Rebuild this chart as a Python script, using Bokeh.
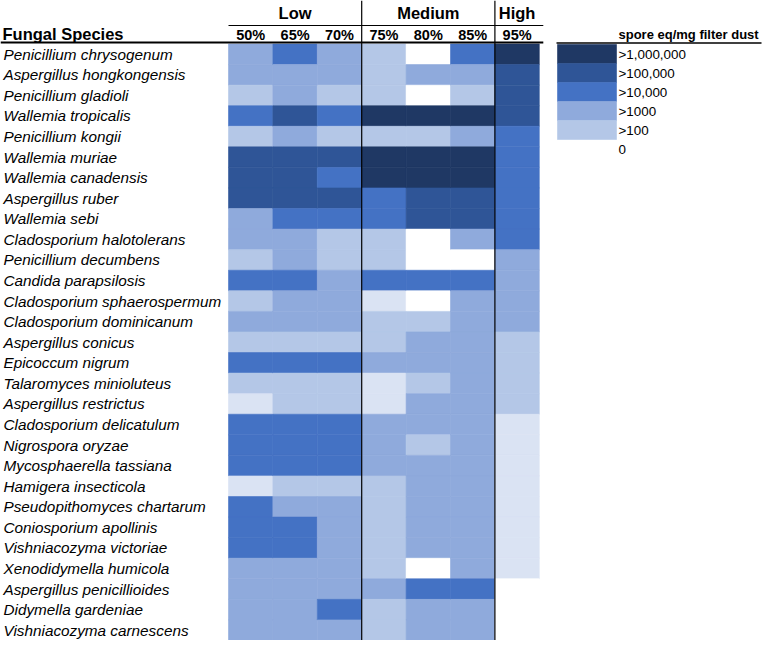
from bokeh.plotting import figure
from bokeh.models import Range1d
from bokeh.core.properties import value
from bokeh.embed import file_html
from bokeh.resources import INLINE

# ---------------- data ----------------
species = [
    "Penicillium chrysogenum", "Aspergillus hongkongensis", "Penicillium gladioli",
    "Wallemia tropicalis", "Penicillium kongii", "Wallemia muriae",
    "Wallemia canadensis", "Aspergillus ruber", "Wallemia sebi",
    "Cladosporium halotolerans", "Penicillium decumbens", "Candida parapsilosis",
    "Cladosporium sphaerospermum", "Cladosporium dominicanum", "Aspergillus conicus",
    "Epicoccum nigrum", "Talaromyces minioluteus", "Aspergillus restrictus",
    "Cladosporium delicatulum", "Nigrospora oryzae", "Mycosphaerella tassiana",
    "Hamigera insecticola", "Pseudopithomyces chartarum", "Coniosporium apollinis",
    "Vishniacozyma victoriae", "Xenodidymella humicola", "Aspergillus penicillioides",
    "Didymella gardeniae", "Vishniacozyma carnescens",
]
columns = ["50%", "65%", "70%", "75%", "80%", "85%", "95%"]
groups = ["Low", "Medium", "High"]
group_span = [(0, 3), (3, 6), (6, 7)]

# abundance level per column (0 = none ... 6 = >1,000,000)
lvl_50 = [3,3,2,4,2,5,5,5,3,3,2,4,2,3,2,4,2,1,4,4,4,1,4,4,4,3,3,3,3]
lvl_65 = [4,3,3,5,3,5,5,5,4,3,3,4,3,3,2,4,2,2,4,4,4,2,3,4,4,3,3,3,3]
lvl_70 = [3,3,2,4,2,5,4,5,4,2,2,3,3,3,2,4,2,2,4,4,4,2,3,3,3,3,3,4,3]
lvl_75 = [2,2,2,6,2,6,6,4,4,2,2,4,1,2,2,3,1,1,3,3,3,2,2,2,2,2,3,2,2]
lvl_80 = [0,3,0,6,2,6,6,5,5,0,0,4,0,2,3,3,2,3,3,2,3,3,3,3,3,0,4,3,3]
lvl_85 = [4,3,2,6,3,6,6,5,5,3,0,4,3,3,3,3,3,3,3,3,3,3,3,3,3,3,4,3,3]
lvl_95 = [6,5,5,5,4,4,4,4,4,4,3,3,3,3,2,2,2,2,1,1,1,1,1,1,1,1,0,0,0]
levels_by_col = [lvl_50, lvl_65, lvl_70, lvl_75, lvl_80, lvl_85, lvl_95]

level_colors = ["#FFFFFF", "#DAE3F3", "#B4C7E7", "#8FAADC", "#4472C4", "#2F5597", "#1F3864"]
legend_levels = [6, 5, 4, 3, 2, 0]
legend_labels = [">1,000,000", ">100,000", ">10,000", ">1000", ">100", "0"]
legend_title = "spore eq/mg filter dust"

# ---------------- layout ----------------
W, H = 762, 640
n = len(species)
HX0, HY0 = 228.0, 43.5               # heatmap top-left in canvas pixels
CW = 44.4                            # pixels per column
RH = (H - HY0) / n                   # pixels per row

def X(px):
    return (px - HX0) / CW

def Y(py):
    return (py - HY0) / RH

p = figure(width=W, height=H, output_backend="svg", toolbar_location=None,
           x_range=Range1d(X(0), X(W)), y_range=Range1d(Y(H), Y(0)),
           x_axis_location=None, y_axis_location=None, min_border=0)
p.grid.visible = False
p.outline_line_color = None
p.background_fill_color = "white"
p.border_fill_color = "white"

FONT = value("Liberation Sans")

# heatmap cells
xs, ys, cs = [], [], []
for ci, lv in enumerate(levels_by_col):
    for ri, l in enumerate(lv):
        xs.append(ci + 0.5)
        ys.append(ri + 0.5)
        cs.append(level_colors[l])
p.rect(x=xs, y=ys, width=1, height=1, fill_color=cs, line_color=cs, line_width=0.6)

ncol = len(columns)
right_end = ncol + 4 / CW

# group separators (vertical)
for g0, g1 in group_span[:-1]:
    p.segment(x0=[g1], y0=[Y(0)], x1=[g1], y1=[Y(H)], line_color="black", line_width=1.2)

# group header line and labels
p.segment(x0=[0], y0=[Y(25)], x1=[right_end], y1=[Y(25)],
          line_color="black", line_width=1)
p.text(x=[(a + b) / 2 for a, b in group_span], y=[Y(12.5)] * len(groups), text=groups,
       text_font=FONT, text_font_size=value("16.5px"), text_font_style="bold",
       text_align="center", text_baseline="middle", text_color="black")

# column labels
p.text(x=[i + 0.5 for i in range(ncol)], y=[Y(34)] * ncol, text=columns,
       text_font=FONT, text_font_size=value("14.5px"), text_font_style="bold",
       text_align="center", text_baseline="middle", text_color="black")

# header title
p.text(x=[X(2)], y=[Y(33.5)], text=["Fungal Species"],
       text_font=FONT, text_font_size=value("16.5px"), text_font_style="bold",
       text_align="left", text_baseline="middle", text_color="black")

# thick line under header
p.segment(x0=[X(0)], y0=[Y(42)], x1=[right_end], y1=[Y(42)],
          line_color="black", line_width=2)

# species labels
p.text(x=[X(3)] * n, y=[i + 0.5 for i in range(n)], text=species,
       text_font=FONT, text_font_size=value("15.3px"), text_font_style="italic",
       text_align="left", text_baseline="middle", text_color="black")

# ---------------- legend ----------------
LX0, LX1 = 557, 616                  # swatch pixel span
SLOT = 19.0 / RH
ly0 = Y(44)
sw = [lv for lv in legend_levels if lv > 0]
p.rect(x=[(X(LX0) + X(LX1)) / 2] * len(sw),
       y=[ly0 + (i + 0.5) * SLOT for i in range(len(sw))],
       width=X(LX1) - X(LX0), height=SLOT,
       fill_color=[level_colors[l] for l in sw], line_color=[level_colors[l] for l in sw],
       line_width=0.6)
p.text(x=[X(LX1 + 2)] * len(legend_labels),
       y=[ly0 + (i + 0.5) * SLOT for i in range(len(legend_labels))],
       text=legend_labels, text_font=FONT, text_font_size=value("13.4px"),
       text_align="left", text_baseline="middle", text_color="black")
p.text(x=[X(LX1 + 2)], y=[Y(34)], text=[legend_title],
       text_font=FONT, text_font_size=value("13px"), text_font_style="bold",
       text_align="left", text_baseline="middle", text_color="black")
p.segment(x0=[X(LX0 - 1)], y0=[Y(42.5)], x1=[X(W - 1)], y1=[Y(42.5)],
          line_color="black", line_width=1.5)

open("out.html", "w").write(file_html(p, INLINE))
